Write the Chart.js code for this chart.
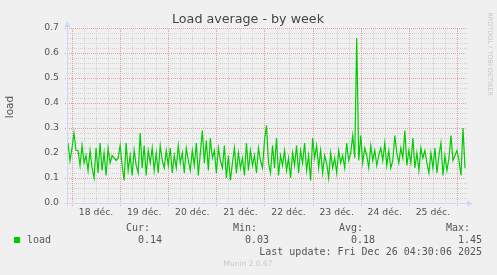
<!DOCTYPE html>
<html>
<head>
<meta charset="utf-8">
<script src="https://cdn.jsdelivr.net/npm/chart.js@4"></script>
<style>
  html, body { margin: 0; padding: 0; background: #f0f0f0; }
  canvas { display: block; }
</style>
</head>
<body>
<canvas id="loadChart" width="497" height="275"></canvas>
<script>
// hours are counted from 18 déc. 00:00, one sample per hour
const startHour = -2;
const loadValues = [
  0.24, 0.17,
  0.22, 0.28, 0.21, 0.21, 0.15, 0.23, 0.16, 0.19, 0.13, 0.21, 0.14, 0.10,
  0.22, 0.12, 0.24, 0.13, 0.20, 0.11, 0.22, 0.16, 0.19, 0.18, 0.17, 0.18,
  0.23, 0.15, 0.09, 0.24, 0.13, 0.19, 0.11, 0.21, 0.15, 0.12, 0.28, 0.14,
  0.23, 0.11, 0.21, 0.16, 0.22, 0.13, 0.20, 0.12, 0.23, 0.17, 0.14, 0.21,
  0.15, 0.22, 0.12, 0.19, 0.14, 0.23, 0.16, 0.20, 0.12, 0.22, 0.17, 0.13,
  0.21, 0.15, 0.24, 0.11, 0.20, 0.29, 0.16, 0.25, 0.13, 0.26, 0.18, 0.21,
  0.12, 0.22, 0.17, 0.14, 0.23, 0.10, 0.19, 0.09, 0.16, 0.22, 0.12, 0.20,
  0.14, 0.18, 0.11, 0.24, 0.13, 0.21, 0.15, 0.19, 0.12, 0.22, 0.17, 0.14,
  0.25, 0.31, 0.16, 0.12, 0.23, 0.14, 0.26, 0.11, 0.19, 0.15, 0.21, 0.13,
  0.18, 0.10, 0.20, 0.15, 0.23, 0.12, 0.21, 0.16, 0.24, 0.13, 0.19, 0.09,
  0.26, 0.18, 0.23, 0.14, 0.21, 0.12, 0.19, 0.16, 0.10, 0.20, 0.14, 0.18,
  0.12, 0.21, 0.16, 0.19, 0.14, 0.24, 0.17, 0.20, 0.27, 0.18, 0.66, 0.17,
  0.27, 0.16, 0.22, 0.19, 0.14, 0.23, 0.17, 0.21, 0.15, 0.19, 0.22, 0.17,
  0.24, 0.15, 0.21, 0.14, 0.17, 0.27, 0.20, 0.16, 0.22, 0.18, 0.29, 0.15,
  0.21, 0.16, 0.26, 0.14, 0.20, 0.13, 0.22, 0.18, 0.21, 0.16, 0.12, 0.20,
  0.14, 0.22, 0.12, 0.19, 0.24, 0.11, 0.19, 0.13, 0.18, 0.27, 0.17, 0.19,
  0.21, 0.17, 0.11, 0.30, 0.14
];
const dayLabels = ["18 déc.", "19 déc.", "20 déc.", "21 déc.", "22 déc.", "23 déc.", "24 déc.", "25 déc."];
const yTicks = [0, 0.1, 0.2, 0.3, 0.4, 0.5, 0.6, 0.7];
const legendHeads = ["Cur:", "Min:", "Avg:", "Max:"];
const legendValues = ["0.14", "0.03", "0.18", "1.45"];

const points = loadValues.map((v, i) => ({ x: startHour + i, y: v }));

// dotted 1px lines drawn pixel by pixel so every line looks the same
function hDots(ctx, y, x0, x1) {
  for (let x = Math.round(x0); x <= x1; x += 2) ctx.fillRect(x, y, 1, 1);
}
function vDots(ctx, x, y0, y1) {
  for (let y = Math.round(y1); y >= y0; y -= 2) ctx.fillRect(x, y, 1, 1);
}

const munin = {
  id: "munin",
  beforeDraw(chart) {
    const { ctx } = chart;
    ctx.save();
    ctx.fillStyle = "#f0f0f0";
    ctx.fillRect(0, 0, chart.width, chart.height);
    ctx.restore();
  },
  beforeDatasetsDraw(chart) {
    const { ctx, chartArea: a, scales: { x, y } } = chart;
    ctx.save();
    ctx.fillStyle = "#d2d2d2";
    for (let k = 1; k < 35; k++) {
      if (k % 5 === 0) continue;
      hDots(ctx, Math.round(y.getPixelForValue(k * 0.02)), a.left + 1, a.right);
    }
    for (let h = -24; h <= 200; h += 6) {
      if (h % 24 === 0 || h < x.min || h > x.max) continue;
      vDots(ctx, Math.round(x.getPixelForValue(h)), a.top, a.bottom);
    }
    ctx.fillStyle = "#e4a0a0";
    yTicks.forEach(v => {
      if (v === 0) return;
      hDots(ctx, Math.round(y.getPixelForValue(v)), a.left - 2, a.right);
    });
    for (let h = 0; h <= 192; h += 24) {
      vDots(ctx, Math.round(x.getPixelForValue(h)), a.top, a.bottom + 2);
    }
    ctx.restore();
  },
  afterDatasetsDraw(chart) {
    const { ctx, chartArea: a } = chart;
    ctx.save();
    // axes with arrows
    ctx.strokeStyle = "#cfd6f8";
    ctx.fillStyle = "#cfd6f8";
    ctx.lineWidth = 1;
    const ax = Math.round(a.left) + 0.5, ay = Math.round(a.bottom) + 0.5;
    ctx.beginPath(); ctx.moveTo(ax, ay + 3); ctx.lineTo(ax, a.top - 2); ctx.stroke();
    ctx.beginPath(); ctx.moveTo(ax - 3, a.top - 1); ctx.lineTo(ax + 3, a.top - 1); ctx.lineTo(ax, a.top - 7); ctx.closePath(); ctx.fill();
    ctx.beginPath(); ctx.moveTo(ax - 3, ay); ctx.lineTo(a.right + 2, ay); ctx.stroke();
    ctx.beginPath(); ctx.moveTo(a.right + 1, ay - 3); ctx.lineTo(a.right + 1, ay + 3); ctx.lineTo(a.right + 7, ay); ctx.closePath(); ctx.fill();

    // titles
    ctx.fillStyle = "#444";
    ctx.textBaseline = "middle";
    ctx.textAlign = "center";
    ctx.font = "12.7px 'DejaVu Sans'";
    ctx.fillText("Load average - by week", 248, 20);
    ctx.save();
    ctx.translate(10, 107);
    ctx.rotate(-Math.PI / 2);
    ctx.font = "10.5px 'DejaVu Sans'";
    ctx.fillStyle = "#555";
    ctx.fillText("load", 0, 0);
    ctx.restore();
    ctx.save();
    ctx.translate(490, 54);
    ctx.rotate(Math.PI / 2);
    ctx.font = "6.5px 'DejaVu Sans'";
    ctx.fillStyle = "#c8c8c8";
    ctx.fillText("RRDTOOL / TOBI OETIKER", 0, 0);
    ctx.restore();

    // legend
    ctx.fillStyle = "#00cc00";
    ctx.fillRect(14, 237, 6, 6);
    ctx.fillStyle = "#555";
    ctx.font = "10px 'DejaVu Sans Mono'";
    ctx.textAlign = "left";
    ctx.fillText("load", 27, 240);
    ctx.textAlign = "right";
    const headEnds = [150, 257, 363, 470];
    legendHeads.forEach((t, i) => ctx.fillText(t, headEnds[i], 228));
    legendValues.forEach((t, i) => ctx.fillText(t, headEnds[i] + 12, 240));
    ctx.fillText("Last update: Fri Dec 26 04:30:06 2025", 482, 252);
    ctx.textAlign = "center";
    ctx.font = "7.5px 'DejaVu Sans'";
    ctx.fillStyle = "#c8c8c8";
    ctx.fillText("Munin 2.0.67", 248, 264);
    ctx.restore();
  }
};

new Chart(document.getElementById("loadChart"), {
  type: "line",
  data: {
    datasets: [{
      label: "load",
      data: points,
      borderColor: "#00cc00",
      borderWidth: 1.2,
      pointRadius: 0,
      tension: 0,
      fill: false
    }]
  },
  options: {
    responsive: false,
    animation: false,
    events: [],
    layout: { padding: { top: 28, right: 31, left: 0, bottom: 0 } },
    plugins: { legend: { display: false }, tooltip: { enabled: false }, title: { display: false } },
    scales: {
      x: {
        type: "linear",
        min: -2.5,
        max: 196.5,
        grid: { display: false, drawTicks: false },
        border: { display: false },
        afterFit: s => { s.height = 72; },
        afterBuildTicks: s => { s.ticks = dayLabels.map((_, i) => ({ value: 12 + 24 * i })); },
        ticks: {
          autoSkip: false,
          maxRotation: 0,
          padding: 4,
          color: "#555",
          font: { family: "DejaVu Sans", size: 9.3 },
          callback: (v) => dayLabels[(v - 12) / 24]
        }
      },
      y: {
        min: 0,
        max: 0.7,
        grid: { display: false, drawTicks: false },
        border: { display: false },
        afterFit: s => { s.width = 67; },
        afterBuildTicks: s => { s.ticks = yTicks.map(v => ({ value: v })); },
        ticks: {
          padding: 8,
          color: "#555",
          font: { family: "DejaVu Sans", size: 9.3 },
          callback: v => v.toFixed(1)
        }
      }
    }
  },
  plugins: [munin]
});
</script>
</body>
</html>
